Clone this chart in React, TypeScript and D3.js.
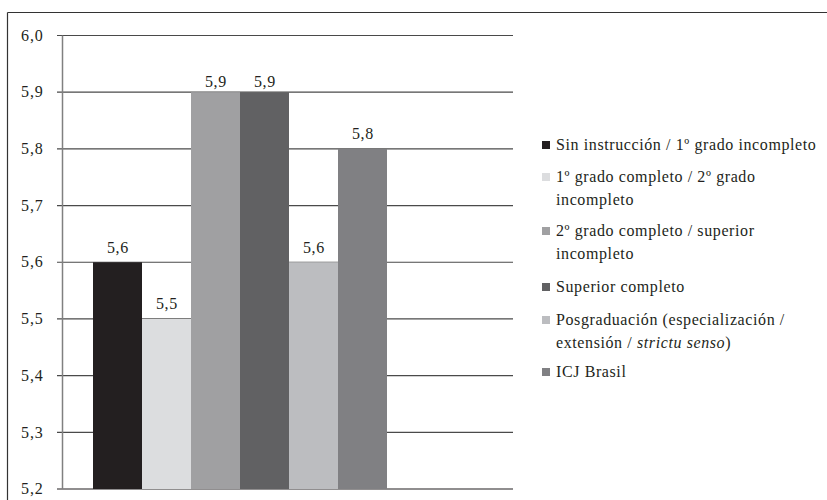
import React from "react";
import * as d3 from "d3";

const categories = [
  "Sin instrucción / 1º grado incompleto",
  "1º grado completo / 2º grado incompleto",
  "2º grado completo / superior incompleto",
  "Superior completo",
  "Posgraduación (especialización / extensión / strictu senso)",
  "ICJ Brasil",
];
const values = [5.6, 5.5, 5.9, 5.9, 5.6, 5.8];
const colors = ["#231f20", "#dcdddf", "#a0a0a2", "#616163", "#bcbdc0", "#808083"];
const yTicks = [5.2, 5.3, 5.4, 5.5, 5.6, 5.7, 5.8, 5.9, 6.0];

// legend lines (wrapped as in the reference)
const legendLines: { text: React.ReactNode[]; square: boolean }[][] = [
  [{ text: ["Sin instrucción / 1º grado incompleto"], square: true }],
  [
    { text: ["1º grado completo / 2º grado"], square: true },
    { text: ["incompleto"], square: false },
  ],
  [
    { text: ["2º grado completo / superior"], square: true },
    { text: ["incompleto"], square: false },
  ],
  [{ text: ["Superior completo"], square: true }],
  [
    { text: ["Posgraduación (especialización /"], square: true },
    { text: ["extensión / ", <tspan key="i" fontStyle="italic">strictu senso</tspan>, ")"], square: false },
  ],
  [{ text: ["ICJ Brasil"], square: true }],
];

const fmt = (v: number) => v.toFixed(1).replace(".", ",");
const FONT = "Liberation Serif";

export default function App() {
  const y = d3.scaleLinear().domain([5.2, 6.0]).range([489, 35.5]);
  const x = d3.scaleBand<string>().domain(categories).range([93, 387]).padding(0);
  const axisX = 62.5;
  const gridEnd = 513;
  const maxV = d3.max(values) as number;

  const legendBase = [150, 182, 236, 292, 325, 377];
  const lineH = 23;

  return (
    <svg width={827} height={500} style={{ position: "absolute", left: 0, top: 0 }}>
      <rect x={0} y={0} width={827} height={500} fill="#fff" />
      {/* frame */}
      <line x1={7.5} y1={12.5} x2={827} y2={12.5} stroke="#333" strokeWidth={1.2} />
      <line x1={7.5} y1={12.5} x2={7.5} y2={500} stroke="#333" strokeWidth={1.2} />

      {/* gridlines and ticks */}
      {yTicks.map((t) => (
        <g key={t}>
          <line
            x1={57}
            x2={gridEnd}
            y1={y(t)}
            y2={y(t)}
            stroke={t === 5.2 ? "#231f20" : "#4a4a4a"}
            strokeWidth={1.2}
          />
          <text
            x={43.5}
            y={y(t) + 5.2}
            textAnchor="end"
            fontSize={16}
            letterSpacing={0.8}
            fontFamily={FONT}
            fill="#231f20"
          >
            {fmt(t)}
          </text>
        </g>
      ))}

      {/* bars */}
      {categories.map((c, i) => (
        <g key={c}>
          <rect
            x={x(c)}
            y={y(values[i])}
            width={x.bandwidth()}
            height={y(5.2) - y(values[i])}
            fill={colors[i]}
          />
          <text
            x={(x(c) as number) + x.bandwidth() / 2 + 0.4}
            y={y(values[i]) - (values[i] >= maxV ? 5.6 : 9.5)}
            textAnchor="middle"
            fontSize={16}
            letterSpacing={0.6}
            fontFamily={FONT}
            fill="#231f20"
          >
            {fmt(values[i])}
          </text>
        </g>
      ))}

      {/* axis line */}
      <line x1={axisX} x2={axisX} y1={y(6.0)} y2={y(5.2)} stroke="#808080" strokeWidth={1.5} />

      {/* legend */}
      {legendLines.map((entry, i) =>
        entry.map((ln, j) => {
          const base = legendBase[i] + j * lineH;
          return (
            <g key={`${i}-${j}`}>
              {ln.square && (
                <rect x={542} y={base - 9} width={8} height={8} fill={colors[i]} />
              )}
              <text
                x={556}
                y={base}
                fontSize={16}
                letterSpacing={0.6}
                fontFamily={FONT}
                fill="#231f20"
              >
                {ln.text}
              </text>
            </g>
          );
        })
      )}
    </svg>
  );
}
